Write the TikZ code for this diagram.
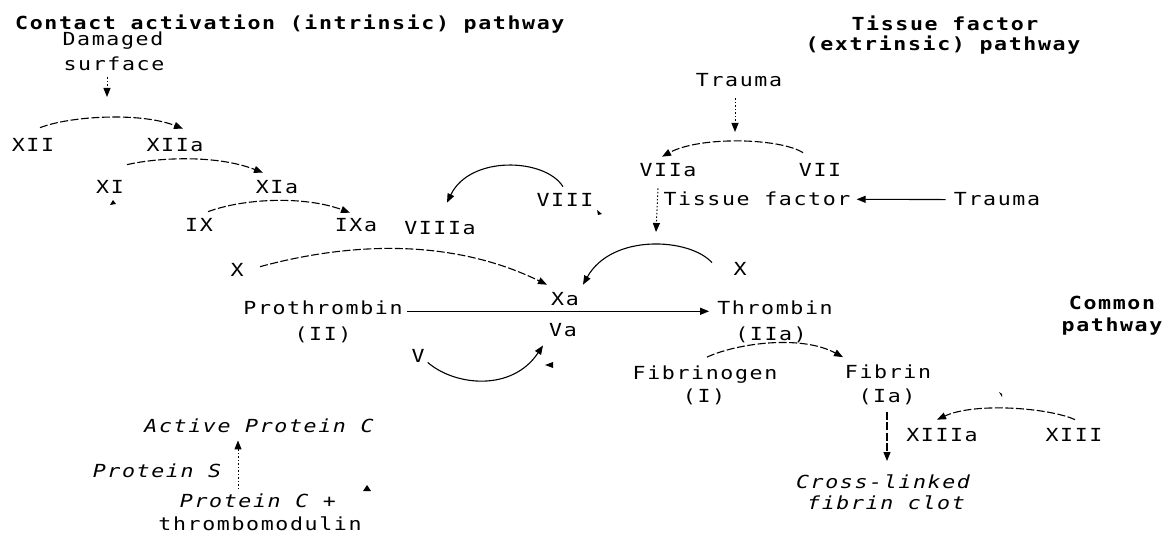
\documentclass[tikz,border=0pt]{standalone}
\usepackage{fontspec}
\usetikzlibrary{arrows.meta}
\newfontfamily\lblfont[FakeStretch=1.2, LetterSpace=9]{DejaVu Sans Mono}
\tikzset{
  lbl/.style={font=\lblfont\fontsize{18}{24}\selectfont, inner sep=0pt, anchor=base},
  ttl/.style={lbl, font=\lblfont\bfseries\fontsize{18}{24}\selectfont},
  itl/.style={lbl, font=\lblfont\itshape\fontsize{18}{24}\selectfont},
  tip/.style={-{Triangle[length=9pt,width=7pt]}},
  link/.style={line width=1.1pt, tip},
  brk/.style={link, dash pattern=on 8pt off 2.5pt},
  dots/.style={link, line width=1pt, dash pattern=on 1.5pt off 2pt},
  speck/.style={fill=black}
}
\begin{document}
\begin{tikzpicture}[x=1pt,y=1pt]
\useasboundingbox (0,0) rectangle (1171,-537);

% headings
\node[ttl, anchor=base west] (hin) at (15,-30) {Contact activation (intrinsic) pathway};
\node[ttl] (hex1) at (945,-31) {Tissue factor};
\node[ttl] (hex2) at (943,-51) {(extrinsic) pathway};
\node[ttl] (hco1) at (1112,-310) {Common};
\node[ttl] (hco2) at (1112,-332) {pathway};

% intrinsic pathway
\node[lbl] (dmg1) at (113,-46) {Damaged};
\node[lbl] (dmg2) at (114,-71) {surface};
\node[lbl] (xii)  at (33,-152)  {XII};
\node[lbl] (xiia) at (175,-152) {XIIa};
\node[lbl] (xi)   at (110,-194) {XI};
\node[lbl] (xia)  at (277,-194) {XIa};
\node[lbl] (ix)   at (199,-232) {IX};
\node[lbl] (ixa)  at (356,-232) {IXa};
\node[lbl] (viiia) at (440,-235) {VIIIa};
\node[lbl] (viii) at (565,-207) {VIII};
\node[lbl] (xl)   at (237,-277) {X};

% extrinsic pathway
\node[lbl] (tr1)  at (739,-87)  {Trauma};
\node[lbl] (viia) at (668,-177) {VIIa};
\node[lbl] (vii)  at (820,-177) {VII};
\node[lbl] (tf)   at (757,-206) {Tissue factor};
\node[lbl] (tr2)  at (997,-206) {Trauma};
\node[lbl] (xr)   at (740,-276) {X};

% common pathway
\node[lbl] (pro1) at (323,-315) {Prothrombin};
\node[lbl] (pro2) at (323,-341) {(II)};
\node[lbl] (xa)   at (565,-306) {Xa};
\node[lbl] (va)   at (563,-337) {Va};
\node[lbl] (v)    at (418,-363) {V};
\node[lbl] (thr1) at (775,-315) {Thrombin};
\node[lbl] (thr2) at (771,-341) {(IIa)};
\node[lbl] (fg1)  at (705,-380) {Fibrinogen};
\node[lbl] (fg2)  at (704,-403) {(I)};
\node[lbl] (fb1)  at (888,-379) {Fibrin};
\node[lbl] (fb2)  at (887,-403) {(Ia)};
\node[lbl] (xiiia) at (942,-442) {XIIIa};
\node[lbl] (xiii) at (1074,-442) {XIII};
\node[itl] (cl1)  at (883,-488) {Cross-linked};
\node[itl] (cl2)  at (886,-509) {fibrin clot};

% protein C system
\node[itl] (apc)  at (259,-433) {Active Protein C};
\node[itl] (ps)   at (157,-478) {Protein S};
\node[itl] (pc1)  at (258,-507) {Protein C +};
\node[lbl] (pc2)  at (260,-530) {thrombomodulin};

% free ends of the catalysis arrows
\coordinate (kdmg) at (107,-97);
\coordinate (ktr)  at (735,-132);
\coordinate (ktf)  at (656,-232);

% intrinsic cascade
\draw[dots] ([shift={(-7,-6)}]dmg2.south) -- (kdmg);
\draw[brk] ([shift={(7,11)}]xii.north) .. controls (70,-116) and (140,-112) .. ([shift={(8,10)}]xiia.north);
\draw[brk] ([shift={(17,16)}]xi.north) .. controls (155,-158) and (215,-154) .. ([shift={(-14,8)}]xia.north);
\draw[brk] ([shift={(9,7)}]ix.north) .. controls (245,-198) and (305,-196) .. ([shift={(-6,6)}]ixa.north);
\draw[brk] ([shift={(23,-3)}]xl.north) .. controls (340,-245) and (445,-235) .. ([shift={(-18,8)}]xa.north);
\draw[link] ([shift={(-2,7)}]viii.north) .. controls (545,-158) and (470,-155) .. ([shift={(7,19)}]viiia.north);

% extrinsic cascade
\draw[dots] ([shift={(-4,-11)}]tr1.south) -- (ktr);
\draw[brk] ([shift={(-17,11)}]vii.north) .. controls (780,-138) and (700,-136) .. ([shift={(-6,7)}]viia.north);
\draw[dots] ([shift={(-10,-11)}]viia.south) -- (ktf);
\draw[link] ([xshift=-8]tr2.west) -- ([xshift=6]tf.east);
\draw[link] ([shift={(-28,0)}]xr.north) .. controls (690,-238) and (612,-233) .. ([shift={(18,8)}]xa.north);

% common pathway
\draw[link] ([shift={(4,-3)}]pro1.east) -- ([shift={(-8,-3)}]thr1.west);
\draw[link] ([shift={(3,-6)}]v.east) .. controls (455,-386) and (512,-392) .. ([shift={(-20,-8)}]va.south);
\draw[brk] ([shift={(2,9)}]fg1.north) .. controls (735,-344) and (800,-334) .. ([shift={(-45,8)}]fb1.north);
\draw[brk] ([shift={(0,-6)}]fb2.south) -- ([shift={(4,13)}]cl1.north);
\draw[brk] ([shift={(1,9)}]xiii.north) .. controls (1050,-408) and (975,-402) .. ([shift={(-5,9)}]xiiia.north);

% protein C activation
\draw[dots] ([shift={(-20,4)}]pc1.north) -- ([shift={(-21,-7)}]apc.south);

% loose arrowhead fragments
\fill[speck] (545,-365) -- (553,-362) -- (553,-368) -- cycle;
\fill[speck] (367,-485) -- (363,-491) -- (371,-491) -- cycle;
\fill[speck] (113,-200) -- (110,-205) -- (116,-204) -- cycle;
\fill[speck] (602,-214) -- (597,-210) -- (598,-215) -- cycle;
\fill[speck] (1002,-394) -- (999,-392) -- (1002,-397) -- cycle;
\end{tikzpicture}
\end{document}
